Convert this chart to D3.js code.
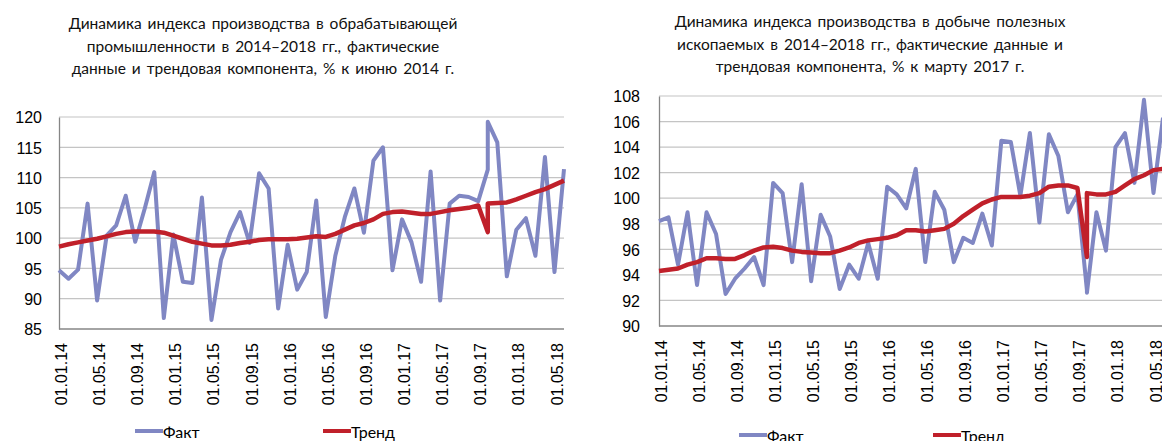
<!DOCTYPE html>
<html>
<head>
<meta charset="utf-8">
<script src="https://cdn.jsdelivr.net/npm/d3@7"></script>
<style>
  body { margin: 0; background: #fff; }
  svg { display: block; font-family: Lato, "Noto Sans", sans-serif; }
  .grid line { stroke: #c4c4c4; stroke-width: 1.2; }
  .axis path, .axis line { stroke: #868686; stroke-width: 1.3; }
  .axis text { fill: #000; font-size: 16px; }
  .title { font-size: 15.5px; fill: #111; word-spacing: 2px; }
</style>
</head>
<body>
<svg id="chart" width="1162" height="441"></svg>
<script>
// даты наблюдений (октябрь 2017 встречается дважды — как в исходном ряду)
const dates = [
  '01.01.14','01.02.14','01.03.14','01.04.14','01.05.14','01.06.14','01.07.14','01.08.14','01.09.14','01.10.14','01.11.14','01.12.14',
  '01.01.15','01.02.15','01.03.15','01.04.15','01.05.15','01.06.15','01.07.15','01.08.15','01.09.15','01.10.15','01.11.15','01.12.15',
  '01.01.16','01.02.16','01.03.16','01.04.16','01.05.16','01.06.16','01.07.16','01.08.16','01.09.16','01.10.16','01.11.16','01.12.16',
  '01.01.17','01.02.17','01.03.17','01.04.17','01.05.17','01.06.17','01.07.17','01.08.17','01.09.17','01.10.17','01.10.17','01.11.17','01.12.17',
  '01.01.18','01.02.18','01.03.18','01.04.18','01.05.18','01.06.18'
];
const tickLabels = ['01.01.14','01.05.14','01.09.14','01.01.15','01.05.15','01.09.15','01.01.16',
  '01.05.16','01.09.16','01.01.17','01.05.17','01.09.17','01.01.18','01.05.18'];

// обрабатывающая промышленность, % к июню 2014
const manufFact = [
  94.7, 93.3, 94.8, 105.7, 89.7, 100.4, 102.1, 107.0, 99.4, 104.9, 110.9, 86.8,
  100.6, 92.8, 92.6, 106.7, 86.5, 96.4, 101.0, 104.3, 99.2, 110.7, 108.2, 88.4,
  98.9, 91.5, 94.4, 106.2, 87.0, 97.1, 103.5, 108.2, 100.9, 112.8, 115.0, 94.7,
  103.1, 99.3, 92.8, 111.0, 89.7, 105.7, 107.0, 106.8, 106.1, 111.3, 119.2, 115.8, 93.7,
  101.4, 103.3, 97.1, 113.4, 94.4, 111.4
];
const manufTrend = [
  98.6, 99.0, 99.3, 99.6, 99.9, 100.3, 100.7, 101.0, 101.1, 101.1, 101.1, 100.9,
  100.4, 99.9, 99.4, 99.1, 98.8, 98.8, 98.9, 99.2, 99.4, 99.7, 99.8, 99.8,
  99.8, 99.9, 100.1, 100.3, 100.2, 100.7, 101.4, 102.1, 102.5, 103.1, 104.0, 104.3,
  104.4, 104.2, 104.0, 104.0, 104.3, 104.6, 104.8, 105.0, 105.4, 101.0, 105.7, 105.8, 105.9,
  106.4, 107.0, 107.6, 108.1, 108.8, 109.5
];
const manufTicks = [85, 90, 95, 100, 105, 110, 115, 120];

// добыча полезных ископаемых, % к марту 2017
const miningFact = [
  98.2, 98.5, 94.8, 98.9, 93.2, 98.9, 97.2, 92.5, 93.7, 94.5, 95.4, 93.2,
  101.2, 100.4, 95.0, 101.1, 93.5, 98.7, 97.0, 92.9, 94.8, 93.7, 96.5, 93.7,
  100.9, 100.3, 99.2, 102.3, 95.0, 100.5, 99.1, 95.0, 96.9, 96.5, 98.8, 96.3,
  104.5, 104.4, 100.2, 105.1, 98.1, 105.0, 103.3, 98.9, 100.3, 92.8, 92.6, 98.9, 95.9,
  104.0, 105.1, 101.2, 107.7, 100.4, 106.3
];
const miningTrend = [
  94.3, 94.4, 94.5, 94.8, 95.0, 95.3, 95.3, 95.25, 95.25, 95.55, 95.9, 96.15,
  96.2, 96.1, 95.9, 95.8, 95.75, 95.7, 95.7, 95.9, 96.15, 96.5, 96.7, 96.8,
  96.9, 97.1, 97.5, 97.5, 97.4, 97.5, 97.6, 98.0, 98.6, 99.1, 99.6, 99.9,
  100.1, 100.1, 100.1, 100.2, 100.4, 100.9, 101.0, 101.0, 100.8, 95.4, 100.4, 100.3, 100.3,
  100.5, 101.0, 101.5, 101.8, 102.2, 102.3
];
const miningTicks = [90, 92, 94, 96, 98, 100, 102, 104, 106, 108];

const manufTitle = [
  'Динамика индекса производства в обрабатывающей',
  'промышленности  в 2014–2018 гг., фактические',
  'данные  и трендовая компонента, % к июню 2014 г.'
];
const miningTitle = [
  'Динамика индекса производства в добыче полезных',
  'ископаемых в 2014–2018 гг., фактические данные и',
  'трендовая компонента, % к марту 2017 г.'
];

const FACT_COLOR = '#8087c3';
const TREND_COLOR = '#c0202a';

const parseDate = d3.timeParse('%d.%m.%y');
const monthIndex = (s) => {
  const d = parseDate(s);
  return d.getFullYear() * 12 + d.getMonth();
};

const svg = d3.select('#chart');

function drawPanel(cfg) {
  const g = svg.append('g');
  const months = dates.map(monthIndex);

  const x = d3.scaleLinear()
    .domain(d3.extent(months))
    .range([cfg.left, cfg.right]);
  const y = d3.scaleLinear()
    .domain(d3.extent(cfg.ticks))
    .range([cfg.bottom, cfg.top]);

  // заголовок
  g.append('text')
    .attr('class', 'title')
    .attr('text-anchor', 'middle')
    .selectAll('tspan')
    .data(cfg.title)
    .join('tspan')
    .attr('x', cfg.titleX)
    .attr('y', (d, i) => cfg.titleY + i * 22.5)
    .text((d) => d);

  // сетка
  g.append('g')
    .attr('class', 'grid')
    .selectAll('line')
    .data(cfg.ticks.slice(1))
    .join('line')
    .attr('x1', cfg.left)
    .attr('x2', cfg.right)
    .attr('y1', (d) => y(d))
    .attr('y2', (d) => y(d));

  const yAxis = g.append('g')
    .attr('class', 'axis')
    .attr('transform', `translate(${cfg.left},0)`)
    .call(d3.axisLeft(y).tickValues(cfg.ticks).tickSize(0).tickPadding(cfg.yPad).tickFormat(d3.format('d')));
  yAxis.selectAll('text').attr('dy', '0.36em');

  const xAxis = g.append('g')
    .attr('class', 'axis')
    .attr('transform', `translate(0,${cfg.bottom})`)
    .call(d3.axisBottom(x).tickValues(tickLabels.map(monthIndex)).tickSize(0)
      .tickFormat((d, i) => tickLabels[i]));
  xAxis.select('.domain').attr('d', `M${cfg.left},0H${cfg.right}`);
  xAxis.selectAll('text')
    .attr('text-anchor', 'end')
    .attr('transform', 'translate(0,14) rotate(-90)')
    .attr('x', 0)
    .attr('y', 0)
    .attr('dy', '0.47em');

  const line = (vals) => d3.line()
    .x((d, i) => x(months[i]))
    .y((d) => y(d))(vals);

  g.append('path')
    .attr('d', line(cfg.fact))
    .attr('fill', 'none')
    .attr('stroke', FACT_COLOR)
    .attr('stroke-width', 4)
    .attr('stroke-linejoin', 'round');

  g.append('path')
    .attr('d', line(cfg.trend))
    .attr('fill', 'none')
    .attr('stroke', TREND_COLOR)
    .attr('stroke-width', 4.5)
    .attr('stroke-linejoin', 'round');

  // легенда
  const legend = [
    { name: 'Факт', color: FACT_COLOR, x: cfg.legendX[0] },
    { name: 'Тренд', color: TREND_COLOR, x: cfg.legendX[1] }
  ];
  const items = g.selectAll('.legend-item')
    .data(legend)
    .join('g')
    .attr('transform', (d) => `translate(${d.x},${cfg.legendY})`);
  items.append('line')
    .attr('x1', 0).attr('x2', 28)
    .attr('stroke', (d) => d.color)
    .attr('stroke-width', 4);
  items.append('text')
    .attr('x', 28)
    .attr('y', 7)
    .attr('font-size', 16)
    .text((d) => d.name);
}

drawPanel({
  title: manufTitle, titleX: 263, titleY: 29,
  fact: manufFact, trend: manufTrend, ticks: manufTicks,
  left: 59, right: 564, top: 117, bottom: 329, yPad: 17,
  legendX: [135, 323], legendY: 431
});

drawPanel({
  title: miningTitle, titleX: 870, titleY: 27,
  fact: miningFact, trend: miningTrend, ticks: miningTicks,
  left: 659, right: 1163, top: 96, bottom: 326, yPad: 19,
  legendX: [739, 933], legendY: 435
});
</script>
</body>
</html>
